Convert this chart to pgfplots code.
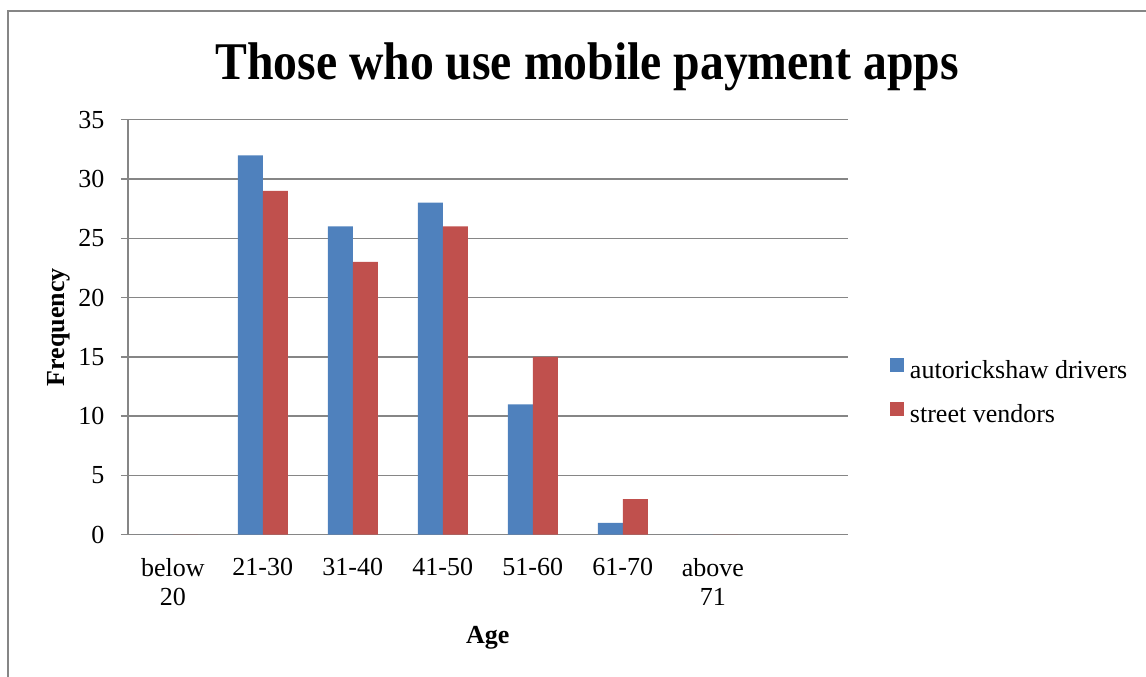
\documentclass[border=0pt]{standalone}
\usepackage{fontspec}
\setmainfont{Liberation Serif}
\usepackage{pgfplots}
\pgfplotsset{compat=1.18}
\definecolor{barblue}{RGB}{79,129,189}
\definecolor{barred}{RGB}{192,80,77}
\definecolor{gridgray}{RGB}{134,134,134}
\begin{document}
\begin{tikzpicture}[x=1pt,y=1pt]
\useasboundingbox (0,0) rectangle (1146,677);
\draw[gridgray, line width=1.5pt] (8,-5) -- (8,666) -- (1160,666);
\node[font=\fontsize{53}{60}\selectfont\bfseries, xscale=0.9, anchor=base, inner sep=0pt] at (587,597) {Those who use mobile payment apps};
\begin{axis}[
  at={(142,120)}, anchor=south west,
  scale only axis, width=720pt, height=415pt,
  ybar=0pt, bar width=25pt,
  xmin=-0.5, xmax=7.5, ymin=0, ymax=35,
  xtick={0,...,6},
  xticklabels={{below\\20},21-30,31-40,41-50,51-60,61-70,{above\\71}},
  ytick={0,5,...,35},
  axis lines=left, axis line style={-, gridgray, line width=1.5pt},
  ymajorgrids, grid style={gridgray, line width=1.5pt},
  xtick style={draw=none},
  ytick style={gridgray, line width=1.5pt},
  tick align=outside, major tick length=7pt,
  ticklabel style={font=\fontsize{26}{29}\selectfont},
  xticklabel style={align=center, yshift=-13pt},
  yticklabel style={xshift=-13pt},
  /pgf/number format/assume math mode=true,
  xlabel={Age}, ylabel={Frequency},
  label style={font=\fontsize{26}{29}\selectfont\bfseries},
  xlabel style={at={(axis description cs:0.5,-0.2627)}, anchor=base, inner sep=0pt},
  ylabel style={at={(axis description cs:-0.0875,0.5)}, anchor=base, inner sep=0pt},
  legend style={at={(axis description cs:1.0583,0.3397)}, anchor=west, draw=none, fill=none,
    inner sep=0pt, font=\fontsize{26}{29}\selectfont, row sep=17pt, column sep=6pt,
    nodes={inner sep=0pt, text height=20pt, text depth=7pt}},
  legend cell align=left,
]
\addplot[fill=barblue, draw=none, legend image code/.code={\fill[barblue] (0pt,0pt) rectangle (14pt,14pt);}]
  coordinates {(0,0) (1,32) (2,26) (3,28) (4,11) (5,1) (6,0)};
\addplot[fill=barred, draw=none, legend image code/.code={\fill[barred] (0pt,0pt) rectangle (14pt,14pt);}]
  coordinates {(0,0) (1,29) (2,23) (3,26) (4,15) (5,3) (6,0)};
\legend{autorickshaw drivers, street vendors}
\end{axis}
\end{tikzpicture}
\end{document}
